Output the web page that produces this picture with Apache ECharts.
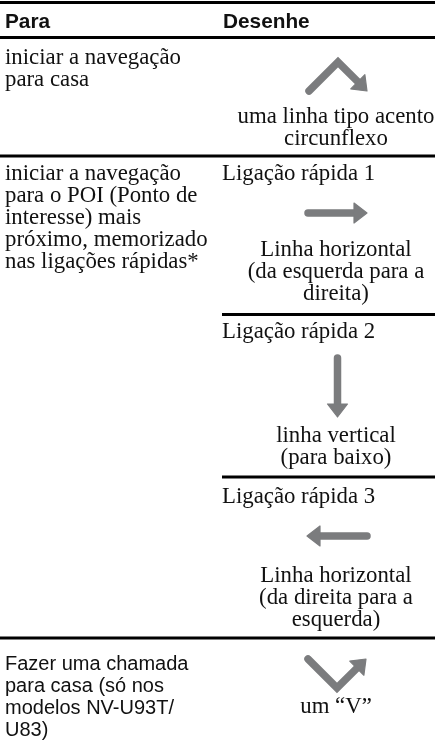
<!DOCTYPE html>
<html>
<head>
<meta charset="utf-8">
<script src="https://cdn.jsdelivr.net/npm/echarts@6/dist/echarts.min.js"></script>
<style>
  html, body { margin: 0; padding: 0; background: #fff; }
  #chart { width: 435px; height: 742px; }
</style>
</head>
<body>
<div id="chart"></div>
<script>
// ---------------- DATA ----------------
const headers = ['Para', 'Desenhe'];

const actionLines = [
  ['iniciar a navegação', 'para casa'],
  ['iniciar a navegação', 'para o POI (Ponto de', 'interesse) mais', 'próximo, memorizado', 'nas ligações rápidas*'],
  ['Fazer uma chamada', 'para casa (só nos', 'modelos NV-U93T/', 'U83)']
];
const actionFonts = ['serif', 'serif', 'sans'];

const gestureLabels = ['', 'Ligação rápida 1', 'Ligação rápida 2', 'Ligação rápida 3', ''];
const gestureShapes = ['caret', 'right', 'down', 'left', 'v'];
const gestureDescriptions = [
  ['uma linha tipo acento', 'circunflexo'],
  ['Linha horizontal', '(da esquerda para a', 'direita)'],
  ['linha vertical', '(para baixo)'],
  ['Linha horizontal', '(da direita para a', 'esquerda)'],
  ['um “V”']
];
const gestureRow = [0, 1, 1, 1, 2];

// ---------------- STYLE / LAYOUT ----------------
const W = 435;
const SERIF = '"Liberation Serif", "Times New Roman", serif';
const SANS = '"Liberation Sans", Arial, sans-serif';
const ARROW = '#7b7c7e';
const LH = 22;
const SERIF_SIZE = 22.8, SANS_SIZE = 20, HEADER_SIZE = 20.8;
const leftX = 5, rightX = 222, centerX = 336;

// unit paths of gestures (shape description, scaled below)
const unitPaths = {
  caret: [[-1, 1], [0, 0], [1, 1]],
  right: [[-1, 0], [1, 0]],
  down:  [[0, -1], [0, 1]],
  left:  [[1, 0], [-1, 0]],
  v:     [[-1, -1], [0, 0], [1, -1]]
};
// layout per gesture block
const gLayout = [
  { ax: 338, ay: 62,  s: 29,   labelBase: null, descBase: 122 },
  { ax: 337.5, ay: 213, s: 29.5, labelBase: 179, descBase: 255 },
  { ax: 337.5, ay: 387.5, s: 29.5, labelBase: 337, descBase: 441 },
  { ax: 337, ay: 536, s: 30,   labelBase: 502, descBase: 581 },
  { ax: 337, ay: 688, s: 29,   labelBase: null, descBase: 712 }
];
const rowFirstBase = [63, 179, 668];
const fullRules = [{ y: 2.5, w: 3.2 }, { y: 37.5, w: 2.8 }, { y: 156, w: 2.8 }, { y: 638, w: 2.8 }];
const subRules = [{ y: 314.5, w: 2.8 }, { y: 477, w: 2.8 }];

// ---------------- BUILD ----------------
const els = [];
function txt(str, x, baseline, font, size, weight, align) {
  const off = (font === SERIF ? 0.34 : 0.35) * size - 3;
  els.push({
    type: 'text',
    silent: true,
    style: {
      text: str, x: x, y: baseline - off,
      font: (weight || 'normal') + ' ' + size + 'px ' + font,
      fill: '#111',
      textAlign: align || 'left',
      textVerticalAlign: 'middle'
    }
  });
}
function hline(x1, x2, y, w) {
  els.push({ type: 'line', silent: true, shape: { x1: x1, y1: y, x2: x2, y2: y },
    style: { stroke: '#000', lineWidth: w } });
}
function arrow(pts) {
  const n = pts.length;
  const [px, py] = pts[n - 2], [tx, ty] = pts[n - 1];
  const dx = tx - px, dy = ty - py, len = Math.hypot(dx, dy);
  const ux = dx / len, uy = dy / len;
  const headLen = 13, half = 10;
  const bx = tx - ux * headLen, by = ty - uy * headLen;
  const shaft = pts.slice(0, n - 1).concat([[bx + ux * 2, by + uy * 2]]);
  els.push({ type: 'polyline', silent: true, shape: { points: shaft },
    style: { stroke: ARROW, lineWidth: 7.5, lineCap: 'round', lineJoin: 'miter', fill: null } });
  els.push({ type: 'polygon', silent: true,
    shape: { points: [[tx, ty], [bx - uy * half, by + ux * half], [bx + uy * half, by - ux * half]] },
    style: { fill: ARROW, stroke: ARROW, lineWidth: 1.2, lineJoin: 'round' } });
}

// rules
fullRules.forEach(r => hline(0, W, r.y, r.w));
subRules.forEach(r => hline(rightX, W, r.y, r.w));

// header
txt(headers[0], leftX, 27, SANS, HEADER_SIZE, 'bold');
txt(headers[1], rightX + 1, 27, SANS, HEADER_SIZE, 'bold');

// left column
actionLines.forEach((lines, r) => {
  const isSans = actionFonts[r] === 'sans';
  lines.forEach((l, i) => {
    txt(l, leftX, rowFirstBase[r] + i * LH, isSans ? SANS : SERIF, isSans ? SANS_SIZE : SERIF_SIZE);
  });
});

// right column gestures
gestureShapes.forEach((shape, g) => {
  const lay = gLayout[g];
  if (gestureLabels[g]) txt(gestureLabels[g], rightX, lay.labelBase, SERIF, SERIF_SIZE);
  const pts = unitPaths[shape].map(p => [lay.ax + p[0] * lay.s, lay.ay + p[1] * lay.s]);
  arrow(pts);
  gestureDescriptions[g].forEach((l, i) => {
    txt(l, centerX, lay.descBase + i * LH, SERIF, SERIF_SIZE, 'normal', 'center');
  });
});

const chart = echarts.init(document.getElementById('chart'), null, { renderer: 'canvas', width: 435, height: 742 });
chart.setOption({
  backgroundColor: '#fff',
  animation: false,
  graphic: { elements: els }
});
</script>
</body>
</html>
